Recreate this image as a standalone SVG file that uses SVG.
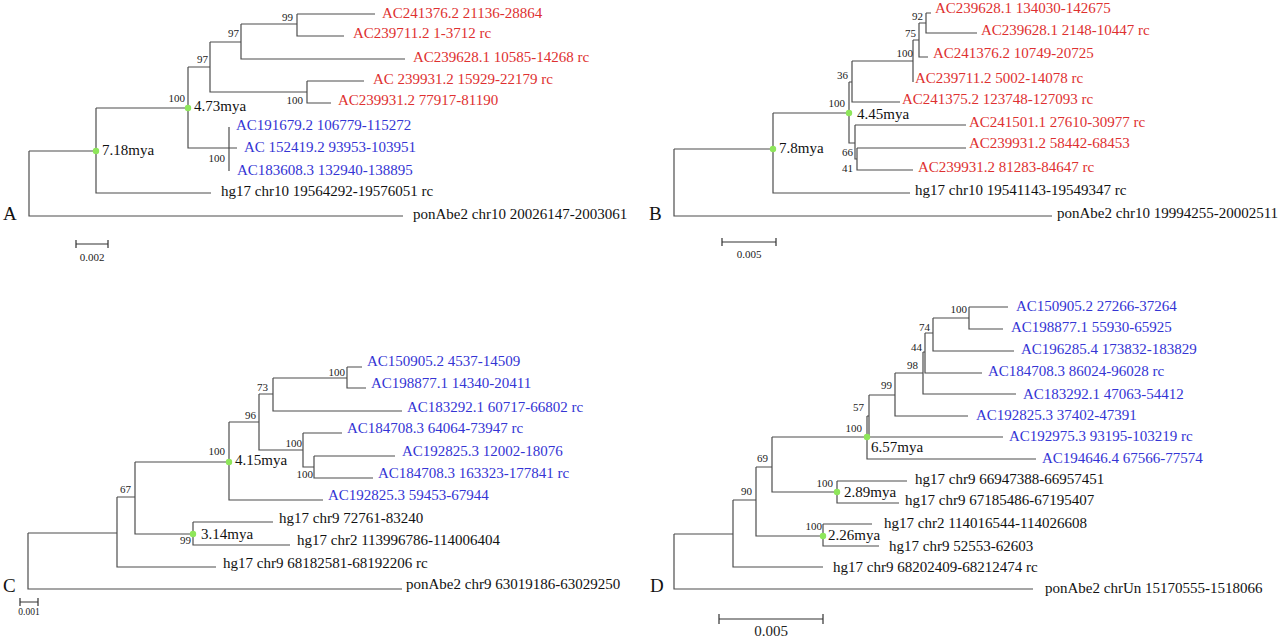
<svg xmlns="http://www.w3.org/2000/svg" width="1280" height="638" viewBox="0 0 1280 638">
<style>
.br{stroke:#4d4d4d;stroke-width:1.2;fill:none}
.sb{stroke:#333;stroke-width:1.2;fill:none}
text{font-family:"Liberation Serif","Times New Roman",serif}
.lab{font-size:15px}
.r{fill:#de3030}
.b{fill:#3434d4}
.k{fill:#111}
.bs{font-size:11px;fill:#222;text-anchor:end}
.dot{fill:#8ee65a}
.let{font-size:19px;fill:#111}
</style>
<rect width="1280" height="638" fill="#fff"/>

<!-- Panel A -->
<g id="panelA">
<g id="connectorsA">
<path class="br" d="M29,151V216H403M29,151H96M96,108V193H211M96,108H188M188,67V148H229M229,127V171M229,148H237M188,67H210M210,42V92H307M210,42H241M241,24V59H405M241,24H297M297,14V36H344M297,14H375M307,81V103H331M307,81H364"/>
</g>
<g id="a_n1"><text class="lab r" x="382" y="17.5">AC241376.2 21136-28864</text></g>
<g id="a_n2"><text class="lab r" x="353" y="38">AC239711.2 1-3712 rc</text></g>
<g id="a_n3"><text class="lab r" x="413" y="62">AC239628.1 10585-14268 rc</text></g>
<g id="a_n4"><text class="lab r" x="373" y="84">AC 239931.2 15929-22179 rc</text></g>
<g id="a_n5"><text class="lab r" x="338" y="105">AC239931.2 77917-81190</text></g>
<g id="a_n6"><text class="lab b" x="236" y="130">AC191679.2 106779-115272</text></g>
<g id="a_n7"><text class="lab b" x="244" y="152">AC 152419.2 93953-103951</text></g>
<g id="a_n8"><text class="lab b" x="237" y="175">AC183608.3 132940-138895</text></g>
<g id="a_n9"><text class="lab k" x="221" y="196">hg17 chr10 19564292-19576051 rc</text></g>
<g id="a_n10"><text class="lab k" x="413" y="219">ponAbe2 chr10 20026147-2003061</text></g>
<g id="a_int">
<text class="bs" x="293" y="21">99</text>
<text class="bs" x="239" y="37">97</text>
<text class="bs" x="208" y="63">97</text>
<text class="bs" x="185" y="102">100</text>
<text class="bs" x="303" y="104">100</text>
<text class="bs" x="225" y="162">100</text>
</g>
<g id="a_d1"><circle class="dot" cx="188" cy="108" r="3.2"/><text class="lab k" x="194" y="111">4.73mya</text></g>
<g id="a_d2"><circle class="dot" cx="96" cy="151" r="3.2"/><text class="lab k" x="102" y="155">7.18mya</text></g>
<text class="let" x="3" y="220">A</text>
<g id="a_scale"><path class="sb" d="M76,244H108M76,240V248M108,240V248"/><text x="92" y="261" font-size="11" fill="#222" text-anchor="middle">0.002</text></g>
</g>

<!-- Panel B -->
<g id="panelB">
<g id="connectorsB">
<path class="br" d="M674,149V216H1052M674,149H773M773,113V193H910M773,113H849M849,82V143H855M849,82H852M852,61V102H900M852,61H913M913,40V82M913,40H919M919,23V57H928M919,23H926M926,13V33H977M926,13H931M855,125V159H857M855,125H966M857,148V170H913M857,148H966"/>
</g>
<g id="b_n1"><text class="lab r" x="935" y="13">AC239628.1 134030-142675</text></g>
<g id="b_n2"><text class="lab r" x="981" y="35">AC239628.1 2148-10447 rc</text></g>
<g id="b_n3"><text class="lab r" x="933" y="58">AC241376.2 10749-20725</text></g>
<g id="b_n4"><text class="lab r" x="915" y="83">AC239711.2 5002-14078 rc</text></g>
<g id="b_n5"><text class="lab r" x="902" y="104">AC241375.2 123748-127093 rc</text></g>
<g id="b_n6"><text class="lab r" x="969" y="127">AC241501.1 27610-30977 rc</text></g>
<g id="b_n7"><text class="lab r" x="969" y="148">AC239931.2 58442-68453</text></g>
<g id="b_n8"><text class="lab r" x="918" y="172">AC239931.2 81283-84647 rc</text></g>
<g id="b_n9"><text class="lab k" x="915" y="195">hg17 chr10 19541143-19549347 rc</text></g>
<g id="b_n10"><text class="lab k" x="1057" y="218">ponAbe2 chr10 19994255-20002511</text></g>
<g id="b_int">
<text class="bs" x="923" y="20">92</text>
<text class="bs" x="916" y="37">75</text>
<text class="bs" x="913" y="57">100</text>
<text class="bs" x="848" y="79">36</text>
<text class="bs" x="845" y="107">100</text>
<text class="bs" x="853" y="156">66</text>
<text class="bs" x="853" y="172">41</text>
</g>
<g id="b_d1"><circle class="dot" cx="849" cy="113" r="3.2"/><text class="lab k" x="857" y="119">4.45mya</text></g>
<g id="b_d2"><circle class="dot" cx="773" cy="149" r="3.2"/><text class="lab k" x="779" y="153">7.8mya</text></g>
<text class="let" x="649" y="220">B</text>
<g id="b_scale"><path class="sb" d="M722,242H776M722,238V246M776,238V246"/><text x="749" y="258" font-size="11" fill="#222" text-anchor="middle">0.005</text></g>
</g>

<!-- Panel C -->
<g id="panelC">
<g id="connectorsC">
<path class="br" d="M28,533V589H402M28,533H117M117,497V567H216M117,497H135M135,462V534H193M135,462H229M193,522V545H290M193,522H273M229,422V500H323M229,422H259M259,394V450H303M259,394H273M273,378V411H402M273,378H347M347,367V388H366M347,367H362M303,433V467H314M303,433H342M314,456V478H373M314,456H395"/>
</g>
<g id="c_n1"><text class="lab b" x="367" y="366">AC150905.2 4537-14509</text></g>
<g id="c_n2"><text class="lab b" x="371" y="388">AC198877.1 14340-20411</text></g>
<g id="c_n3"><text class="lab b" x="407" y="412">AC183292.1 60717-66802 rc</text></g>
<g id="c_n4"><text class="lab b" x="347" y="433">AC184708.3 64064-73947 rc</text></g>
<g id="c_n5"><text class="lab b" x="402" y="456">AC192825.3 12002-18076</text></g>
<g id="c_n6"><text class="lab b" x="378" y="478">AC184708.3 163323-177841 rc</text></g>
<g id="c_n7"><text class="lab b" x="328" y="500">AC192825.3 59453-67944</text></g>
<g id="c_n8"><text class="lab k" x="279" y="523">hg17 chr9 72761-83240</text></g>
<g id="c_n9"><text class="lab k" x="297" y="545">hg17 chr2 113996786-114006404</text></g>
<g id="c_n10"><text class="lab k" x="223" y="568">hg17 chr9 68182581-68192206 rc</text></g>
<g id="c_n11"><text class="lab k" x="406" y="589">ponAbe2 chr9 63019186-63029250</text></g>
<g id="c_int">
<text class="bs" x="345" y="376">100</text>
<text class="bs" x="268" y="391">73</text>
<text class="bs" x="256" y="419">96</text>
<text class="bs" x="225" y="455">100</text>
<text class="bs" x="302" y="447">100</text>
<text class="bs" x="313" y="478">100</text>
<text class="bs" x="131" y="493">67</text>
<text class="bs" x="191" y="544">99</text>
</g>
<g id="c_d1"><circle class="dot" cx="229" cy="462" r="3.2"/><text class="lab k" x="235" y="465">4.15mya</text></g>
<g id="c_d2"><circle class="dot" cx="193" cy="534" r="3.2"/><text class="lab k" x="201" y="539">3.14mya</text></g>
<text class="let" x="3" y="592">C</text>
<g id="c_scale"><path class="sb" d="M20,602H38M20,598V606M38,598V606"/><text x="29" y="615" font-size="9.5" fill="#222" text-anchor="middle">0.001</text></g>
</g>

<!-- Panel D -->
<g id="panelD">
<g id="connectorsD">
<path class="br" d="M674,534V589H1033M674,534H733M733,500V567H823M733,500H756M756,467V536H823M756,467H772M823,524V546H879M823,524H872M772,437V492H837M772,437H867M837,481V503H899M837,481H907M867,416V459H1036M867,416H869M869,395V437H1003M869,395H895M895,373V416H968M895,373H923M923,352V394H1016M923,352H925M925,333V373H982M925,333H933M933,318V351H1014M933,318H969M969,307V329H1003M969,307H1008"/>
</g>
<g id="d_n1"><text class="lab b" x="1016" y="311">AC150905.2 27266-37264</text></g>
<g id="d_n2"><text class="lab b" x="1011" y="332">AC198877.1 55930-65925</text></g>
<g id="d_n3"><text class="lab b" x="1021" y="354">AC196285.4 173832-183829</text></g>
<g id="d_n4"><text class="lab b" x="988" y="376">AC184708.3 86024-96028 rc</text></g>
<g id="d_n5"><text class="lab b" x="1023" y="399">AC183292.1 47063-54412</text></g>
<g id="d_n6"><text class="lab b" x="976" y="420">AC192825.3 37402-47391</text></g>
<g id="d_n7"><text class="lab b" x="1009" y="441">AC192975.3 93195-103219 rc</text></g>
<g id="d_n8"><text class="lab b" x="1042" y="463">AC194646.4 67566-77574</text></g>
<g id="d_n9"><text class="lab k" x="915" y="484">hg17 chr9 66947388-66957451</text></g>
<g id="d_n10"><text class="lab k" x="905" y="505">hg17 chr9 67185486-67195407</text></g>
<g id="d_n11"><text class="lab k" x="884" y="528">hg17 chr2 114016544-114026608</text></g>
<g id="d_n12"><text class="lab k" x="889" y="551">hg17 chr9 52553-62603</text></g>
<g id="d_n13"><text class="lab k" x="833" y="572">hg17 chr9 68202409-68212474 rc</text></g>
<g id="d_n14"><text class="lab k" x="1045" y="593">ponAbe2 chrUn 15170555-1518066</text></g>
<g id="d_int">
<text class="bs" x="967" y="313">100</text>
<text class="bs" x="930" y="331">74</text>
<text class="bs" x="922" y="351">44</text>
<text class="bs" x="918" y="369">98</text>
<text class="bs" x="892" y="389">99</text>
<text class="bs" x="864" y="411">57</text>
<text class="bs" x="862" y="432">100</text>
<text class="bs" x="768" y="462">69</text>
<text class="bs" x="752" y="495">90</text>
<text class="bs" x="833" y="487">100</text>
<text class="bs" x="822" y="530">100</text>
</g>
<g id="d_d1"><circle class="dot" cx="867" cy="437" r="3.2"/><text class="lab k" x="871" y="452">6.57mya</text></g>
<g id="d_d2"><circle class="dot" cx="837" cy="492" r="3.2"/><text class="lab k" x="844" y="497">2.89mya</text></g>
<g id="d_d3"><circle class="dot" cx="823" cy="536" r="3.2"/><text class="lab k" x="828" y="540">2.26mya</text></g>
<text class="let" x="650" y="592">D</text>
<g id="d_scale"><path class="sb" d="M719,619H823M719,614V624M823,614V624"/><text x="771" y="636" font-size="15" fill="#222" text-anchor="middle">0.005</text></g>
</g>
</svg>
